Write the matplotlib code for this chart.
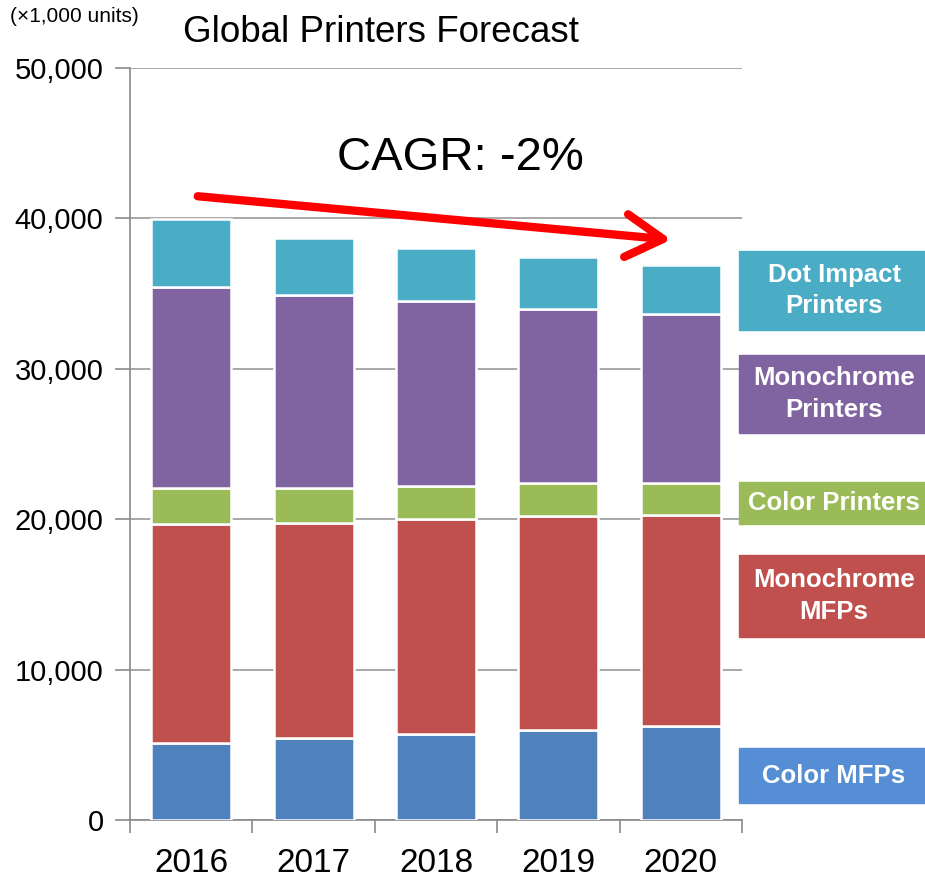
import numpy as np
import matplotlib.pyplot as plt
from matplotlib.patches import FancyArrowPatch

plt.rcParams['font.family'] = ['Liberation Sans', 'DejaVu Sans']

# Shipments in thousands of units, read per year
years = ["2016", "2017", "2018", "2019", "2020"]
color_mfps = [5150, 5420, 5710, 6000, 6270]
mono_mfps = [14520, 14360, 14330, 14180, 14000]
color_printers = [2380, 2270, 2180, 2220, 2130]
mono_printers = [13400, 12840, 12270, 11600, 11220]
dot_impact = [4500, 3840, 3510, 3440, 3310]

series = [
    (color_mfps, "#4F81BD"),
    (mono_mfps, "#C0504D"),
    (color_printers, "#9BBB59"),
    (mono_printers, "#8064A2"),
    (dot_impact, "#4BACC6"),
]

W, H = 925, 880
fig = plt.figure(figsize=(W / 100, H / 100), dpi=100)
ax = fig.add_axes([130 / W, 1 - 820 / H, 612 / W, 752 / H])

x = np.arange(len(years))
bottom = np.zeros(len(years))
for vals, col in series:
    ax.bar(x, vals, 0.655, bottom=bottom, color=col, edgecolor="white",
           linewidth=1.8, zorder=3)
    bottom += np.array(vals)

ax.set_xlim(-0.5, len(years) - 0.5)
ax.set_ylim(0, 50000)
ax.set_yticks(np.arange(0, 50001, 10000))
ax.set_yticklabels([f"{v:,}" for v in range(0, 50001, 10000)])
ax.yaxis.grid(True, color="#9a9a9a", linewidth=1.2, zorder=0)
ax.set_axisbelow(True)

ax.set_xticks(x)
ax.set_xticklabels(years)
ax.set_xticks(np.arange(-0.5, len(years)), minor=True)
ax.tick_params(axis="x", which="major", length=0, pad=20, labelsize=24)
ax.tick_params(axis="x", which="minor", length=9, width=1.2, color="#8a8a8a",
               direction="out")
ax.tick_params(axis="y", length=11, width=1.2, color="#8a8a8a", pad=8,
               labelsize=21)

for s in ["top", "right"]:
    ax.spines[s].set_visible(False)
for s in ["left", "bottom"]:
    ax.spines[s].set_color("#8a8a8a")
    ax.spines[s].set_linewidth(1.2)

fig.text(10 / W, 1 - 17 / H, "(×1,000 units)", fontsize=15, va="center")
fig.text(183 / W, 1 - 32 / H, "Global Printers Forecast", fontsize=26.5,
         va="center")
fig.text(460 / W, 1 - 158 / H, "CAGR: -2%", fontsize=34, va="center",
         ha="center")

arrow = FancyArrowPatch((195 / W, 1 - 196 / H), (674 / W, 1 - 240 / H),
                        transform=fig.transFigure, color="#ff0000",
                        linewidth=6, mutation_scale=28,
                        arrowstyle="->,head_length=0.95,head_width=0.55",
                        capstyle="round", joinstyle="round", zorder=10)
fig.add_artist(arrow)

# Coloured labels beside the bars
labels = [
    ("Dot Impact\nPrinters", "#4BACC6", 251, 330),
    ("Monochrome\nPrinters", "#8064A2", 355, 433),
    ("Color Printers", "#9BBB59", 482, 524),
    ("Monochrome\nMFPs", "#C0504D", 555, 637),
    ("Color MFPs", "#558ED5", 748, 803),
]
for text, col, y0, y1 in labels:
    fig.patches.append(plt.Rectangle((739 / W, 1 - y1 / H), 186 / W,
                                     (y1 - y0) / H, transform=fig.transFigure,
                                     color=col, zorder=5))
    fig.text(834 / W, 1 - (y0 + y1) / 2 / H, text, color="white",
             fontsize=18.5, fontweight="bold", ha="center", va="center",
             linespacing=1.4, zorder=6)

fig.savefig("out.png", dpi=100)
